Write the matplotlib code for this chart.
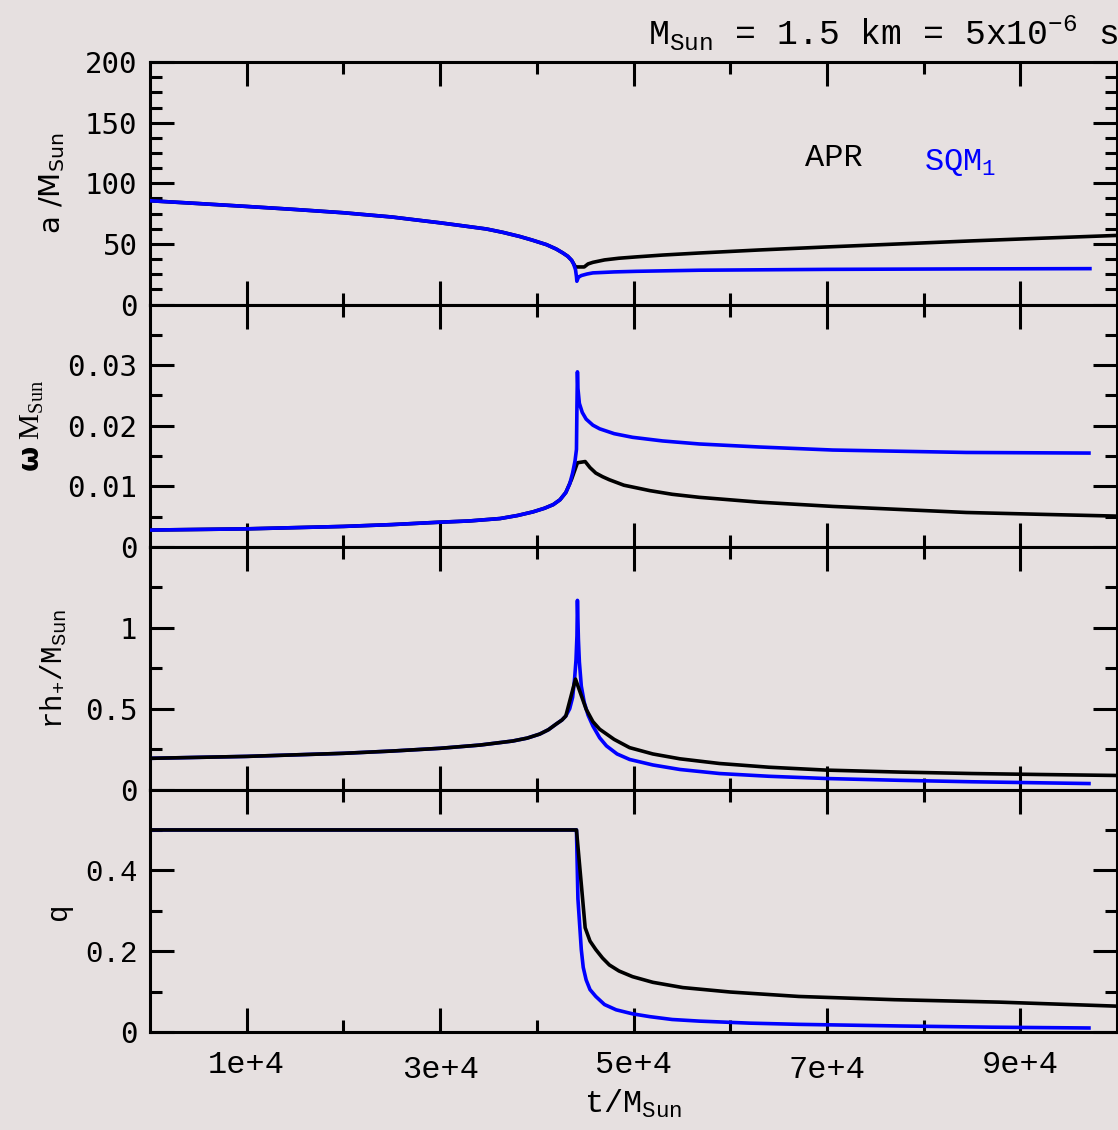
import matplotlib.pyplot as plt

BG = '#e6e0e0'
plt.rcParams['figure.facecolor'] = BG
plt.rcParams['axes.facecolor'] = BG
plt.rcParams['savefig.facecolor'] = BG
plt.rcParams['mathtext.default'] = 'regular'

MONO = 'Liberation Mono'
SANS_MONO = 'DejaVu Sans Mono'

# orbital separation a / M_sun
t_a_apr = [0, 0.5e4, 1.0e4, 1.5e4, 2.0e4, 2.5e4, 2.79e4, 3.0e4, 3.2e4, 3.48e4, 3.65e4, 3.82e4,
           3.95e4, 4.10e4, 4.20e4, 4.27e4, 4.32e4, 4.36e4, 4.40e4, 4.49e4, 4.53e4, 4.58e4,
           4.70e4, 4.85e4, 5.03e4, 5.30e4, 5.68e4, 6.3e4, 7.0e4, 7.75e4, 8.5e4, 9.25e4, 1.0e5]
a_apr = [85.6, 83.3, 80.9, 78.4, 75.7, 72.2, 69.4, 67.4, 65.3, 62.3, 59.5, 56.2,
         53.2, 49.4, 45.8, 42.5, 39.8, 36.5, 31.0, 31.0, 33.5, 34.8,
         36.8, 38.2, 39.3, 40.8, 42.5, 45.0, 47.5, 50.0, 52.5, 54.8, 57.0]
t_a_sqm = [0, 0.5e4, 1.0e4, 1.5e4, 2.0e4, 2.5e4, 2.79e4, 3.0e4, 3.2e4, 3.48e4, 3.65e4, 3.82e4,
           3.95e4, 4.10e4, 4.20e4, 4.27e4, 4.32e4, 4.36e4, 4.38e4, 4.40e4, 4.41e4, 4.414e4,
           4.43e4, 4.46e4, 4.52e4, 4.58e4, 4.80e4, 5.03e4, 5.68e4, 7.0e4, 8.5e4, 9.72e4]
a_sqm = [85.6, 83.3, 80.9, 78.4, 75.7, 72.2, 69.4, 67.4, 65.3, 62.3, 59.5, 56.2,
         53.2, 49.4, 45.8, 42.5, 39.8, 36.5, 33.5, 28.8, 23.0, 19.2,
         22.5, 23.9, 25.2, 26.1, 26.9, 27.4, 28.3, 29.0, 29.4, 29.6]

# orbital frequency omega * M_sun
t_w_apr = [0, 1e4, 2e4, 2.5e4, 3e4, 3.3e4, 3.62e4, 3.8e4, 3.96e4, 4.08e4, 4.17e4, 4.24e4, 4.30e4,
           4.36e4, 4.42e4, 4.50e4, 4.55e4, 4.61e4, 4.68e4, 4.75e4, 4.9e4, 5.17e4, 5.4e4, 5.68e4,
           6.3e4, 7.06e4, 7.75e4, 8.44e4, 9.2e4, 1.0e5]
w_apr = [0.0028, 0.0030, 0.0034, 0.0037, 0.0041, 0.0043, 0.0047, 0.0052, 0.0058, 0.0064, 0.0070, 0.0078, 0.0090,
         0.0112, 0.0139, 0.0141, 0.0131, 0.0122, 0.0116, 0.0111, 0.0102, 0.0093, 0.0087, 0.0082,
         0.0074, 0.0067, 0.0062, 0.0057, 0.0054, 0.0051]
t_w_sqm = [0, 1e4, 2e4, 2.5e4, 3e4, 3.3e4, 3.62e4, 3.8e4, 3.96e4, 4.08e4, 4.17e4, 4.24e4, 4.30e4,
           4.34e4, 4.37e4, 4.395e4, 4.41e4, 4.415e4, 4.42e4, 4.425e4, 4.44e4, 4.47e4, 4.51e4, 4.58e4,
           4.65e4, 4.8e4, 4.99e4, 5.3e4, 5.68e4, 6.3e4, 7.06e4, 7.75e4, 8.44e4, 9.71e4]
w_sqm = [0.0028, 0.0030, 0.0034, 0.0037, 0.0041, 0.0043, 0.0047, 0.0052, 0.0058, 0.0064, 0.0070, 0.0078, 0.0090,
         0.0104, 0.0122, 0.0142, 0.0161, 0.0233, 0.0289, 0.0262, 0.0237, 0.0222, 0.0211, 0.0201,
         0.0195, 0.0187, 0.0181, 0.0175, 0.0170, 0.0165, 0.0160, 0.0158, 0.0156, 0.0155]

# strain amplitude r h_+ / M_sun
t_h_apr = [0, 1e4, 2e4, 2.5e4, 3e4, 3.41e4, 3.75e4, 3.9e4, 4.03e4, 4.12e4, 4.20e4, 4.26e4, 4.30e4,
           4.40e4, 4.51e4, 4.58e4, 4.65e4, 4.8e4, 4.96e4, 5.2e4, 5.48e4, 5.89e4, 6.4e4, 7.0e4,
           7.75e4, 8.5e4, 9.2e4, 1.0e5]
h_apr = [0.193, 0.205, 0.224, 0.238, 0.255, 0.275, 0.300, 0.318, 0.343, 0.370, 0.405, 0.430, 0.455,
         0.683, 0.497, 0.420, 0.373, 0.310, 0.259, 0.220, 0.190, 0.161, 0.138, 0.120,
         0.108, 0.099, 0.093, 0.087]
t_h_sqm = [0, 1e4, 2e4, 2.5e4, 3e4, 3.41e4, 3.75e4, 3.9e4, 4.03e4, 4.12e4, 4.20e4, 4.26e4, 4.30e4,
           4.34e4, 4.37e4, 4.39e4, 4.405e4, 4.415e4, 4.42e4, 4.43e4, 4.44e4, 4.46e4, 4.49e4,
           4.53e4, 4.58e4, 4.65e4, 4.72e4, 4.83e4, 4.96e4, 5.2e4, 5.48e4, 5.89e4, 6.4e4, 7.0e4,
           7.75e4, 8.5e4, 9.71e4]
h_sqm = [0.193, 0.205, 0.224, 0.238, 0.255, 0.275, 0.300, 0.318, 0.343, 0.370, 0.405, 0.430, 0.455,
         0.500, 0.570, 0.680, 0.800, 0.950, 1.170, 0.930, 0.790, 0.640, 0.540,
         0.460, 0.393, 0.320, 0.270, 0.220, 0.186, 0.152, 0.124, 0.099, 0.082, 0.068,
         0.057, 0.048, 0.037]

# mass ratio q
t_q_apr = [0, 4.41e4, 4.50e4, 4.55e4, 4.61e4, 4.68e4, 4.75e4, 4.85e4, 4.99e4, 5.2e4, 5.51e4,
           6.0e4, 6.71e4, 7.7e4, 8.78e4, 1.0e5]
q_apr = [0.5, 0.5, 0.258, 0.225, 0.204, 0.183, 0.166, 0.151, 0.137, 0.123, 0.110,
         0.099, 0.088, 0.080, 0.074, 0.064]
t_q_sqm = [0, 4.41e4, 4.425e4, 4.46e4, 4.48e4, 4.51e4, 4.55e4, 4.61e4, 4.7e4, 4.82e4, 4.99e4,
           5.17e4, 5.4e4, 5.68e4, 6.2e4, 6.71e4, 7.75e4, 8.7e4, 9.71e4]
q_sqm = [0.5, 0.5, 0.330, 0.204, 0.160, 0.129, 0.105, 0.088, 0.068, 0.055, 0.045,
         0.038, 0.031, 0.027, 0.022, 0.019, 0.015, 0.012, 0.010]

x_major = [1e4, 3e4, 5e4, 7e4, 9e4]
x_minor = [2e4, 4e4, 6e4, 8e4]
x_labels = ['1e+4', '3e+4', '5e+4', '7e+4', '9e+4']

panels = [
    dict(apr=(t_a_apr, a_apr), sqm=(t_a_sqm, a_sqm), ylim=200,
         major=[0, 50, 100, 150, 200], labels=['0', '50', '100', '150', '200'],
         minor=[12.5, 25, 37.5, 62.5, 75, 87.5, 112.5, 125, 137.5, 162.5, 175, 187.5],
         ylabel=r'a /$M_{Sun}$', yfont='DejaVu Sans', yx=-0.101, blue_top=True),
    dict(apr=(t_w_apr, w_apr), sqm=(t_w_sqm, w_sqm), ylim=0.04,
         major=[0, 0.01, 0.02, 0.03], labels=['0', '0.01', '0.02', '0.03'],
         minor=[0.005, 0.015, 0.025, 0.035],
         ylabel=r'$\mathbf{\omega}$ $M_{Sun}$', yfont='Liberation Serif', yx=-0.122, blue_top=True),
    dict(apr=(t_h_apr, h_apr), sqm=(t_h_sqm, h_sqm), ylim=1.5,
         major=[0, 0.5, 1], labels=['0', '0.5', '1'],
         minor=[0.25, 0.75, 1.25],
         ylabel=r'$rh_{+}$/$M_{Sun}$', yfont=MONO, yx=-0.100, blue_top=False),
    dict(apr=(t_q_apr, q_apr), sqm=(t_q_sqm, q_sqm), ylim=0.6,
         major=[0, 0.2, 0.4], labels=['0', '0.2', '0.4'],
         minor=[0.1, 0.3, 0.5],
         ylabel='q', yfont=MONO, yx=-0.095, blue_top=False),
]

fig = plt.figure(figsize=(11.18, 11.30), dpi=100)
gs = fig.add_gridspec(4, 1, left=0.1342, right=0.9991, top=0.9451, bottom=0.0867, hspace=0)

axes = []
for i, p in enumerate(panels):
    ax = fig.add_subplot(gs[i])
    axes.append(ax)
    zb, zk = (3, 2) if p['blue_top'] else (2, 3)
    ax.plot(*p['apr'], color='black', lw=2.6, zorder=zk)
    ax.plot(*p['sqm'], color='#0000ff', lw=2.6, zorder=zb)
    ax.set_xlim(0, 1e5)
    ax.set_ylim(0, p['ylim'])

    for s in ax.spines.values():
        s.set_linewidth(2.2)

    ax.set_xticks(x_major)
    ax.set_xticks(x_minor, minor=True)
    ax.set_yticks(p['major'], p['labels'])
    ax.set_yticks(p['minor'], minor=True)
    ax.tick_params(which='both', direction='in', top=True, right=True, width=2.2)
    ax.tick_params(which='major', length=17)
    ax.tick_params(which='minor', length=8.5)
    ax.tick_params(axis='y', labelsize=21, pad=9)
    for lbl in ax.get_yticklabels():
        lbl.set_family(SANS_MONO)

    ax.set_ylabel(p['ylabel'], family=p['yfont'], fontsize=21)
    ax.yaxis.label.set_va('center')
    ax.yaxis.set_label_coords(p['yx'], 0.5)

    if i < 3:
        ax.tick_params(axis='x', labelbottom=False)

# bottom panel: courier-style labels for the non-zero q ticks
for lbl in axes[3].get_yticklabels():
    if lbl.get_text() != '0':
        lbl.set_family(MONO)

ax = axes[3]
ax.set_xticks(x_major, x_labels)
ax.tick_params(axis='x', labelsize=23, pad=13)
for lbl in ax.get_xticklabels():
    lbl.set_family(MONO)
for k, tick in enumerate(ax.xaxis.get_major_ticks()):
    if k % 2 == 1:
        tick.set_pad(16.5)
ax.set_xlabel(r'$t/M_{Sun}$', family=MONO, fontsize=23)
ax.xaxis.label.set_va('baseline')
ax.xaxis.set_label_coords(0.5, -0.335)

# model labels in the top panel
axes[0].text(7.07e4, 114.6, 'APR', family=MONO, fontsize=23, color='black',
             ha='center', va='baseline')
axes[0].text(8.0e4, 111, r'$SQM_{1}$', family=MONO, fontsize=23, color='#0000ff',
             ha='left', va='baseline')

fig.text(1.001, 0.960, r'$M_{Sun}$ = 1.5 km = 5x$10^{-6}$ s', family=MONO, fontsize=25,
         ha='right', va='baseline')

fig.savefig('out.png', dpi=100)
